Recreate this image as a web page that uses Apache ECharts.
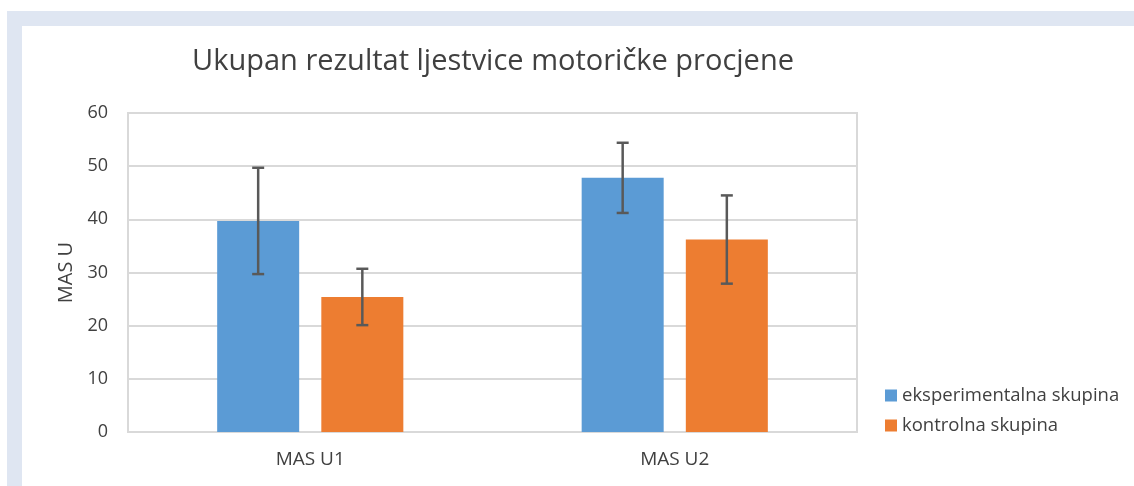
<!DOCTYPE html>
<html>
<head>
<meta charset="utf-8">
<script src="https://cdn.jsdelivr.net/npm/echarts@6/dist/echarts.min.js"></script>
<style>
html,body{margin:0;padding:0;background:#fff;}
#chart{width:1134px;height:486px;}
</style>
</head>
<body>
<div id="chart"></div>
<script>
var categories = ['MAS U1', 'MAS U2'];
var seriesNames = ['eksperimentalna skupina', 'kontrolna skupina'];
var expMeans = [39.7, 47.8];
var expErr = [10.0, 6.6];
var ctrlMeans = [25.4, 36.2];
var ctrlErr = [5.3, 8.3];
var yTicks = { min: 0, max: 60, interval: 10 };

var FONT = '"Open Sans", sans-serif';
var TEXT = '#404040';
var BAR_W = 0.225, GAP = 0.27;

function errorSeries(name, means, errs, side) {
  var data = means.map(function (m, i) { return [i, m - errs[i], m + errs[i]]; });
  return {
    type: 'custom',
    name: name + ' err',
    silent: true,
    z: 10,
    data: data,
    renderItem: function (params, api) {
      var band = api.size([1, 0])[0];
      var bw = band * BAR_W;
      var off = side * (bw + bw * GAP) / 2;
      var lo = api.coord([api.value(0), api.value(1)]);
      var hi = api.coord([api.value(0), api.value(2)]);
      var x = lo[0] + off;
      var cap = 6;
      var st = { stroke: '#595959', lineWidth: 2.5 };
      return {
        type: 'group',
        children: [
          { type: 'line', shape: { x1: x, y1: lo[1], x2: x, y2: hi[1] }, style: st },
          { type: 'line', shape: { x1: x - cap, y1: lo[1], x2: x + cap, y2: lo[1] }, style: st },
          { type: 'line', shape: { x1: x - cap, y1: hi[1], x2: x + cap, y2: hi[1] }, style: st }
        ]
      };
    }
  };
}

var chart = echarts.init(document.getElementById('chart'));
chart.setOption({
  animation: false,
  backgroundColor: '#ffffff',
  graphic: [
    { type: 'rect', shape: { x: 7, y: 11, width: 1127, height: 15 }, style: { fill: '#dfe6f2' }, z: -10 },
    { type: 'rect', shape: { x: 7, y: 11, width: 15, height: 475 }, style: { fill: '#dfe6f2' }, z: -10 },
    { type: 'rect', shape: { x: 128, y: 113, width: 729, height: 319 }, style: { fill: 'none', stroke: '#d9d9d9', lineWidth: 2 }, z: -5 }
  ],
  title: {
    text: 'Ukupan rezultat ljestvice motoričke procjene',
    left: 488,
    textAlign: 'center',
    top: 42,
    textStyle: { fontFamily: FONT, fontSize: 29, fontWeight: 'normal', color: TEXT }
  },
  legend: {
    orient: 'vertical',
    left: 880,
    top: 381,
    itemWidth: 12,
    itemHeight: 12,
    itemGap: 11,
    icon: 'rect',
    data: seriesNames,
    textStyle: { fontFamily: FONT, fontSize: 18.5, color: TEXT }
  },
  grid: { left: 128, right: 277, top: 113, bottom: 54 },
  xAxis: {
    type: 'category',
    data: categories,
    axisTick: { show: false },
    axisLine: { show: true, lineStyle: { color: '#d9d9d9', width: 2 } },
    axisLabel: { fontFamily: FONT, fontSize: 19, color: TEXT, margin: 18 }
  },
  yAxis: {
    type: 'value',
    min: yTicks.min,
    max: yTicks.max,
    interval: yTicks.interval,
    name: 'MAS U',
    nameLocation: 'middle',
    nameGap: 52,
    nameTextStyle: { fontFamily: FONT, fontSize: 20, color: TEXT },
    axisLine: { show: false },
    axisTick: { show: false },
    axisLabel: { fontFamily: FONT, fontSize: 18, color: TEXT, margin: 20 },
    splitLine: { lineStyle: { color: '#d9d9d9', width: 2 } }
  },
  series: [
    { type: 'bar', name: seriesNames[0], data: expMeans, barWidth: (BAR_W * 100) + '%', barGap: (GAP * 100) + '%', itemStyle: { color: '#5b9bd5' } },
    { type: 'bar', name: seriesNames[1], data: ctrlMeans, barWidth: (BAR_W * 100) + '%', barGap: (GAP * 100) + '%', itemStyle: { color: '#ed7d31' } },
    errorSeries(seriesNames[0], expMeans, expErr, -1),
    errorSeries(seriesNames[1], ctrlMeans, ctrlErr, 1)
  ]
});
</script>
</body>
</html>
